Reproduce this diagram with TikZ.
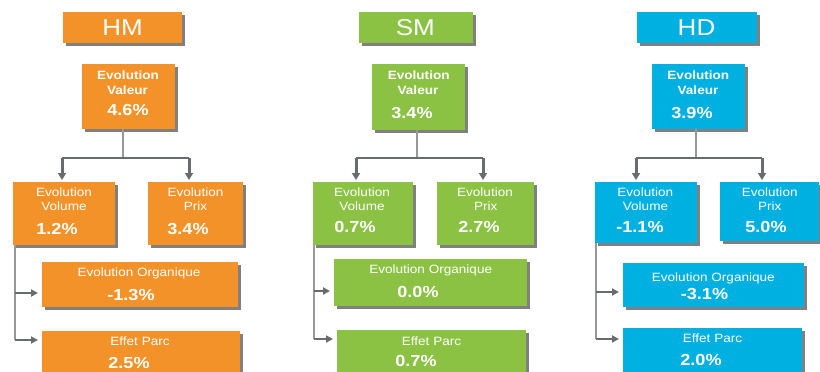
\documentclass[tikz,border=0pt]{standalone}
\usepackage{fontspec}
\setmainfont{Liberation Sans}[FakeStretch=1.13]
\usetikzlibrary{arrows.meta,shadows}
\definecolor{hmorange}{RGB}{243,146,41}
\definecolor{smgreen}{RGB}{139,194,67}
\definecolor{hdblue}{RGB}{0,176,224}
\definecolor{shade}{RGB}{128,128,128}
\definecolor{wire}{RGB}{105,108,110}
\definecolor{rail}{RGB}{150,152,153}
\begin{document}
\begin{tikzpicture}[x=1pt,y=-1pt,
  tile/.style={draw=none, inner sep=0pt, anchor=north west,
    drop shadow={shadow xshift=2.5pt, shadow yshift=-2.5pt, fill=shade, opacity=1}},
  hm/.style={tile, fill=hmorange},
  sm/.style={tile, fill=smgreen},
  hd/.style={tile, fill=hdblue},
  txt/.style={text=white, inner sep=0pt, text height=8.3pt, text depth=0pt,
    font=\fontsize{12}{14}\selectfont},
  txtb/.style={txt, font=\fontsize{12}{14}\selectfont\bfseries},
  num/.style={text=white, inner sep=0pt, text height=11pt, text depth=0pt,
    font=\fontsize{16}{18}\selectfont\bfseries},
  head/.style={text=white, inner sep=0pt, text height=15.8pt, text depth=0pt,
    font=\fontsize{23}{26}\selectfont},
  stem/.style={draw=rail, line width=2.2pt},
  bar/.style={draw=wire, line width=2pt},
  drop/.style={draw=wire, line width=3pt, -{Triangle[length=7pt,width=8pt]}, shorten >=2pt},
  spine/.style={draw=rail, line width=1.8pt},
  feed/.style={draw=wire, line width=2pt, -{Triangle[length=7pt,width=7pt]}, shorten >=4pt}
]
\clip (0,0) rectangle (820,372);
\fill[white] (0,0) rectangle (820,372);

% ---------------- HM ----------------
\node[hm, minimum width=119pt, minimum height=31pt] (hmT) at (63,12) {};
\node[head] (hmTt) at (122.5,28) {HM};
\node[hm, minimum width=93pt, minimum height=65pt] (hmV) at (82,64) {};
\node[txtb] (hmV1) at (128,75) {Evolution};
\node[txtb] (hmV2) at (127.5,90) {Valeur};
\node[num] (hmV3) at (128,110) {4.6\%};
\node[hm, minimum width=102pt, minimum height=63pt] (hmL) at (13,182) {};
\node[txt] (hmL1) at (64,192) {Evolution};
\node[txt] (hmL2) at (64,206) {Volume};
\node[num] (hmL3) at (57,229) {1.2\%};
\node[hm, minimum width=95pt, minimum height=63pt] (hmR) at (148,182) {};
\node[txt] (hmR1) at (195.5,192) {Evolution};
\node[txt] (hmR2) at (195.5,206) {Prix};
\node[num] (hmR3) at (188,229) {3.4\%};
\node[hm, minimum width=196pt, minimum height=45pt] (hmO) at (42,262) {};
\node[txt] (hmO1) at (139,272) {Evolution Organique};
\node[num] (hmO2) at (131,295) {-1.3\%};
\node[hm, minimum width=198pt, minimum height=60pt] (hmP) at (42,331) {};
\node[txt] (hmP1) at (140,341) {Effet Parc};
\node[num] (hmP2) at (129,363) {2.5\%};

\coordinate (hmJ) at (123,158);
\coordinate (hmJl) at (62,158);
\coordinate (hmJr) at (189,158);
\coordinate (hmA) at (15,293);
\coordinate (hmS) at (15,340);
\draw[stem] (hmJ |- hmV.south) -- (hmJ);
\draw[bar] (hmJl) -- (hmJr);
\draw[drop] (hmJl) -- (hmJl |- hmL.north);
\draw[drop] (hmJr) -- (hmJr |- hmR.north);
\draw[spine] (hmS |- hmL.south) -- (hmS);
\draw[feed] (hmA) -- (hmA -| hmO.west);
\draw[feed] (hmS) -- (hmS -| hmP.west);

% ---------------- SM ----------------
\node[sm, minimum width=114pt, minimum height=31pt] (smT) at (359,12) {};
\node[head] (smTt) at (415.3,28) {SM};
\node[sm, minimum width=93pt, minimum height=66pt] (smV) at (372,64) {};
\node[txtb] (smV1) at (418.7,75) {Evolution};
\node[txtb] (smV2) at (418,90) {Valeur};
\node[num] (smV3) at (412,113) {3.4\%};
\node[sm, minimum width=100pt, minimum height=63pt] (smL) at (313,182) {};
\node[txt] (smL1) at (362,192) {Evolution};
\node[txt] (smL2) at (362,206) {Volume};
\node[num] (smL3) at (355,227) {0.7\%};
\node[sm, minimum width=97pt, minimum height=63pt] (smR) at (437,182) {};
\node[txt] (smR1) at (485,192) {Evolution};
\node[txt] (smR2) at (485.7,206) {Prix};
\node[num] (smR3) at (479,227) {2.7\%};
\node[sm, minimum width=193pt, minimum height=47pt] (smO) at (334,259) {};
\node[txt] (smO1) at (430.7,269.5) {Evolution Organique};
\node[num] (smO2) at (418,292) {0.0\%};
\node[sm, minimum width=189pt, minimum height=60pt] (smP) at (337,330) {};
\node[txt] (smP1) at (431.5,341) {Effet Parc};
\node[num] (smP2) at (416,361) {0.7\%};

\coordinate (smJ) at (417,158);
\coordinate (smJl) at (356,158);
\coordinate (smJr) at (483,158);
\coordinate (smA) at (314,291);
\coordinate (smS) at (314,339);
\draw[stem] (smJ |- smV.south) -- (smJ);
\draw[bar] (smJl) -- (smJr);
\draw[drop] (smJl) -- (smJl |- smL.north);
\draw[drop] (smJr) -- (smJr |- smR.north);
\draw[spine] (smS |- smL.south) -- (smS);
\draw[feed] (smA) -- (smA -| smO.west);
\draw[feed] (smS) -- (smS -| smP.west);

% ---------------- HD ----------------
\node[hd, minimum width=120pt, minimum height=31pt] (hdT) at (637,12) {};
\node[head] (hdTt) at (696.5,27.5) {HD};
\node[hd, minimum width=93pt, minimum height=65pt] (hdV) at (652,64) {};
\node[txtb] (hdV1) at (698.3,75) {Evolution};
\node[txtb] (hdV2) at (698,90) {Valeur};
\node[num] (hdV3) at (692,113) {3.9\%};
\node[hd, minimum width=102pt, minimum height=61pt] (hdL) at (595,182) {};
\node[txt] (hdL1) at (645.3,192) {Evolution};
\node[txt] (hdL2) at (645.5,206) {Volume};
\node[num] (hdL3) at (640,227) {-1.1\%};
\node[hd, minimum width=99pt, minimum height=59pt] (hdR) at (720,182) {};
\node[txt] (hdR1) at (769.7,192) {Evolution};
\node[txt] (hdR2) at (769.7,206) {Prix};
\node[num] (hdR3) at (766,227) {5.0\%};
\node[hd, minimum width=181pt, minimum height=44pt] (hdO) at (623,263) {};
\node[txt] (hdO1) at (713.3,277) {Evolution Organique};
\node[num] (hdO2) at (704.5,293.5) {-3.1\%};
\node[hd, minimum width=179pt, minimum height=60pt] (hdP) at (623,328) {};
\node[txt] (hdP1) at (712.5,338.5) {Effet Parc};
\node[num] (hdP2) at (701,360) {2.0\%};

\coordinate (hdJ) at (696,158);
\coordinate (hdJl) at (636,158);
\coordinate (hdJr) at (762,158);
\coordinate (hdA) at (596,292);
\coordinate (hdS) at (596,339);
\draw[stem] (hdJ |- hdV.south) -- (hdJ);
\draw[bar] (hdJl) -- (hdJr);
\draw[drop] (hdJl) -- (hdJl |- hdL.north);
\draw[drop] (hdJr) -- (hdJr |- hdR.north);
\draw[spine] (hdS |- hdL.south) -- (hdS);
\draw[feed] (hdA) -- (hdA -| hdO.west);
\draw[feed] (hdS) -- (hdS -| hdP.west);
\end{tikzpicture}
\end{document}
